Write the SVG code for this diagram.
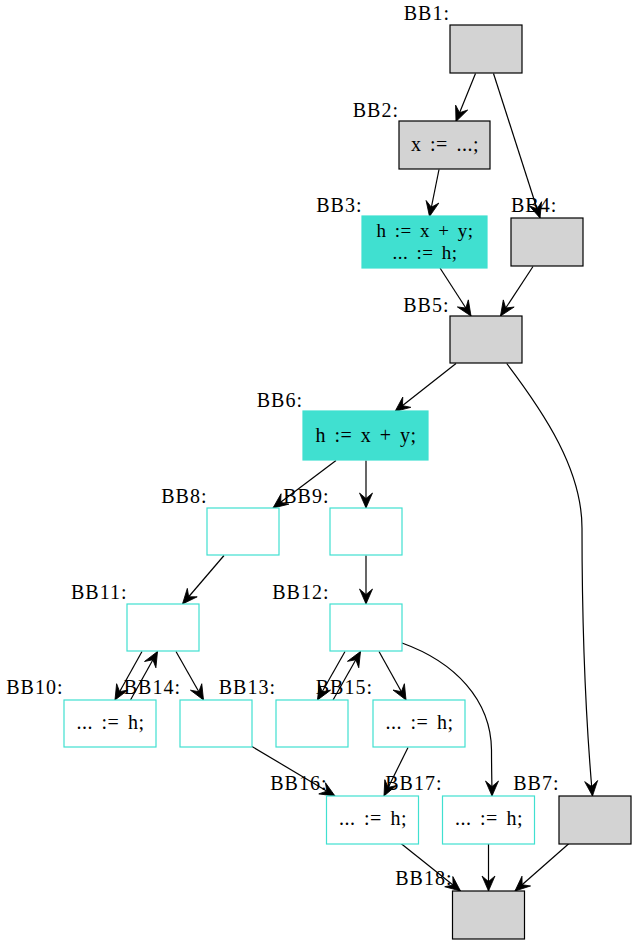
<svg xmlns="http://www.w3.org/2000/svg" width="637" height="945" viewBox="0 0 637 945">
<style>
  .gray { fill: #d3d3d3; stroke: #000; stroke-width: 1.2; }
  .hot { fill: #40e0d0; stroke: #40e0d0; stroke-width: 1.2; }
  .use { fill: #fff; stroke: #40e0d0; stroke-width: 1.2; }
  .lbl { font-family: "Liberation Serif", "Times New Roman", serif; font-size: 20px; letter-spacing: 1px; fill: #000; text-anchor: end; }
  .txt { font-family: "Liberation Serif", "Times New Roman", serif; font-size: 20px; letter-spacing: 0.5px; word-spacing: 3px; fill: #000; text-anchor: middle; }
  .edge { fill: none; stroke: #000; stroke-width: 1.2; marker-end: url(#vee); }
</style>
<defs>
  <marker id="vee" viewBox="-16 -8 17 16" refX="0" refY="0" markerWidth="17" markerHeight="16" markerUnits="userSpaceOnUse" orient="auto" overflow="visible">
    <path d="M0,0 L-15,-6.5 L-9.5,0 L-15,6.5 Z" fill="#000" stroke="#000" stroke-width="0.8"/>
  </marker>
</defs>
<rect x="0" y="0" width="637" height="945" fill="#fff"/>

<g id="edges">
  <path class="edge" d="M475.5,73.5 L456,121.5"/>
  <path class="edge" d="M493.5,73.5 L540,218"/>
  <path class="edge" d="M439,169.5 L429.5,216.5"/>
  <path class="edge" d="M440,268 L471,316"/>
  <path class="edge" d="M533,266.5 L500.5,316"/>
  <path class="edge" d="M456,363.5 L395,411.5"/>
  <path class="edge" d="M506.7,363.5 C545,414 582,470 582,528 C582,610 584,700 592.5,796"/>
  <path class="edge" d="M336,460.5 L273,508"/>
  <path class="edge" d="M366,460.5 L366,508"/>
  <path class="edge" d="M224,555.5 L182.5,604"/>
  <path class="edge" d="M366,555.5 L366,604"/>
  <path class="edge" d="M142,651.5 L115,700"/>
  <path class="edge" d="M130.5,700 L157.5,651.5"/>
  <path class="edge" d="M176,651.5 L203.5,700"/>
  <path class="edge" d="M345,651.5 L317.5,700"/>
  <path class="edge" d="M333,700 L360.5,651.5"/>
  <path class="edge" d="M379,651.5 L406,700"/>
  <path class="edge" d="M402,643 C455,662 491,700 491.5,750 C491.5,770 492,785 492,796"/>
  <path class="edge" d="M252,746.5 L335,796"/>
  <path class="edge" d="M408,747.5 L384,796"/>
  <path class="edge" d="M401,843.5 L460.5,891"/>
  <path class="edge" d="M488.5,843.5 L488.5,891"/>
  <path class="edge" d="M569,843.5 L515,891"/>
</g>

<g id="BB1"><rect class="gray" x="450" y="25" width="72" height="48"/><text class="lbl" x="450" y="20">BB1:</text></g>
<g id="BB2"><rect class="gray" x="399" y="121" width="91" height="48"/><text class="lbl" x="399" y="116.5">BB2:</text><text class="txt" x="445" y="150.5">x := ...;</text></g>
<g id="BB3"><rect class="hot" x="362" y="216" width="125" height="52"/><text class="lbl" x="362.5" y="211.5">BB3:</text><text class="txt" x="425" y="236.5" style="font-size:19px">h := x + y;</text><text class="txt" x="425" y="258.5" style="font-size:19px">... := h;</text></g>
<g id="BB4"><rect class="gray" x="511" y="218" width="72" height="48"/><text class="lbl" x="511" y="212" style="text-anchor:start">BB4:</text></g>
<g id="BB5"><rect class="gray" x="450" y="316" width="72" height="47"/><text class="lbl" x="449.5" y="311.5">BB5:</text></g>
<g id="BB6"><rect class="hot" x="303" y="411" width="125" height="49"/><text class="lbl" x="303" y="406.5">BB6:</text><text class="txt" x="366" y="441.5">h := x + y;</text></g>
<g id="BB8"><rect class="use" x="207" y="508" width="72" height="47"/><text class="lbl" x="207.5" y="502.5">BB8:</text></g>
<g id="BB9"><rect class="use" x="330" y="508" width="72" height="47"/><text class="lbl" x="329.5" y="502.5">BB9:</text></g>
<g id="BB11"><rect class="use" x="127" y="604" width="72" height="47"/><text class="lbl" x="127.5" y="598.5">BB11:</text></g>
<g id="BB12"><rect class="use" x="330" y="604" width="72" height="47"/><text class="lbl" x="329.5" y="598.5">BB12:</text></g>
<g id="BB10"><rect class="use" x="64" y="700" width="92" height="47"/><text class="lbl" x="63.5" y="694">BB10:</text><text class="txt" x="110.5" y="728.5">... := h;</text></g>
<g id="BB14"><rect class="use" x="180" y="700" width="72" height="47"/><text class="lbl" x="181" y="694">BB14:</text></g>
<g id="BB13"><rect class="use" x="276" y="700" width="72" height="47"/><text class="lbl" x="276" y="694">BB13:</text></g>
<g id="BB15"><rect class="use" x="373" y="700" width="92" height="47"/><text class="lbl" x="373" y="694">BB15:</text><text class="txt" x="419.5" y="728.5">... := h;</text></g>
<g id="BB16"><rect class="use" x="326.5" y="796" width="92" height="48"/><text class="lbl" x="327.5" y="790">BB16:</text><text class="txt" x="373" y="825">... := h;</text></g>
<g id="BB17"><rect class="use" x="442.5" y="796" width="92" height="48"/><text class="lbl" x="442.5" y="790">BB17:</text><text class="txt" x="489" y="825">... := h;</text></g>
<g id="BB7"><rect class="gray" x="559" y="796" width="72" height="48"/><text class="lbl" x="559.5" y="790">BB7:</text></g>
<g id="BB18"><rect class="gray" x="452.5" y="891" width="72" height="48"/><text class="lbl" x="452.5" y="885">BB18:</text></g>
</svg>
